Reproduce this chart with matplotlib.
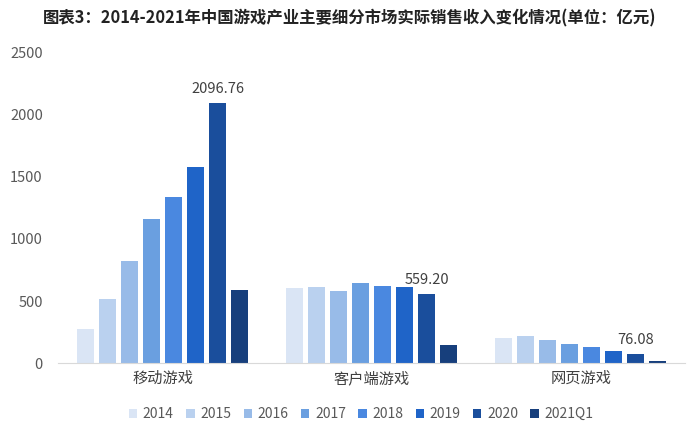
import matplotlib

matplotlib.use("Agg")
import matplotlib.pyplot as plt
import numpy as np

plt.rcParams["font.family"] = ["Noto Sans CJK SC", "DejaVu Sans"]

TITLE = "图表3：2014-2021年中国游戏产业主要细分市场实际销售收入变化情况(单位：亿元)"
CATEGORIES = ["移动游戏", "客户端游戏", "网页游戏"]
YEARS = ["2014", "2015", "2016", "2017", "2018", "2019", "2020", "2021Q1"]

# revenue per year, order: mobile, client, web
REV_2014 = [274.9, 608.9, 202.7]
REV_2015 = [514.6, 611.6, 219.6]
REV_2016 = [819.2, 582.5, 187.1]
REV_2017 = [1161.2, 648.6, 156.0]
REV_2018 = [1339.6, 619.6, 126.5]
REV_2019 = [1581.1, 615.1, 98.7]
REV_2020 = [2096.76, 559.20, 76.08]
REV_2021Q1 = [590.0, 148.0, 15.0]
REVENUE = [REV_2014, REV_2015, REV_2016, REV_2017,
           REV_2018, REV_2019, REV_2020, REV_2021Q1]

Y_TICKS = [0, 500, 1000, 1500, 2000, 2500]

COLORS = ["#dae5f5", "#bad1ef", "#98bbe8", "#6a9fe0",
          "#4a88e0", "#1f64c8", "#1a4e9c", "#173f7c"]

fig = plt.figure(figsize=(7.0, 4.23), dpi=100)
ax = fig.add_axes([0.083, 0.1418, 0.896, 0.733])

x = np.arange(len(CATEGORIES))
step = 22 / 209
width = 17 / 209
for i, (year, vals) in enumerate(zip(YEARS, REVENUE)):
    offset = (i - (len(YEARS) - 1) / 2) * step
    bars = ax.bar(x + offset, vals, width=width, color=COLORS[i], label=year)
    if year == "2020":
        for b, v in zip(bars, vals):
            ax.text(b.get_x() + b.get_width() / 2, v + 55, f"{v:.2f}",
                    ha="center", va="bottom", fontsize=10.5, color="#404040")

ax.set_xlim(-0.5, 2.5)
ax.set_ylim(0, 2500)
ax.set_yticks(Y_TICKS)
ax.set_xticks(x)
ax.set_xticklabels(CATEGORIES, fontsize=11, color="#404040")
ax.tick_params(axis="y", length=0, labelsize=10.5, labelcolor="#595959", pad=11)
ax.tick_params(axis="x", length=0, pad=5)
for side in ("top", "right", "left"):
    ax.spines[side].set_visible(False)
ax.spines["bottom"].set_color("#d9d9d9")

fig.text(0.5, 0.957, TITLE, ha="center", va="center",
         fontsize=11.8, fontweight="bold", color="#222222")

fig.legend(loc="lower center", bbox_to_anchor=(0.516, -0.015), ncol=8,
           frameon=False, fontsize=10, handlelength=0.6, handleheight=0.6,
           handletextpad=0.4, columnspacing=0.9, labelcolor="#595959",
           borderaxespad=0.2)

fig.savefig("out.png", dpi=100, facecolor="white")
